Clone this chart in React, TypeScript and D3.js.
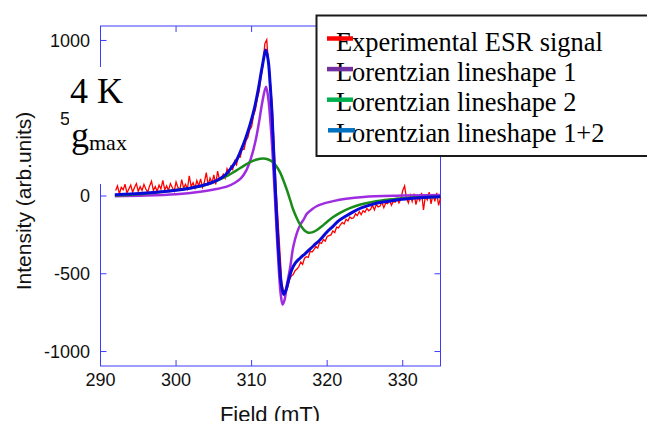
import React from "react";
import * as d3 from "d3";

const xTicks = [290, 300, 310, 320, 330];
const yTicks = [-1000, -500, 0, 500, 1000];

const expField = [
  292.0, 292.25, 292.5, 292.75, 293.0, 293.25, 293.5, 293.75, 294.0, 294.25, 294.5, 294.75,
  295.0, 295.25, 295.5, 295.75, 296.0, 296.25, 296.5, 296.75, 297.0, 297.25, 297.5, 297.75,
  298.0, 298.25, 298.5, 298.75, 299.0, 299.25, 299.5, 299.75, 300.0, 300.25, 300.5, 300.75,
  301.0, 301.25, 301.5, 301.75, 302.0, 302.25, 302.5, 302.75, 303.0, 303.25, 303.5, 303.75,
  304.0, 304.25, 304.5, 304.75, 305.0, 305.25, 305.5, 305.75, 306.0, 306.25, 306.5, 306.75,
  307.0, 307.25, 307.5, 307.75, 308.0, 308.25, 308.5, 308.75, 309.0, 309.25, 309.5, 309.75,
  310.0, 310.25, 310.5, 310.75, 311.0, 311.25, 311.5, 311.75, 312.0, 312.25, 312.5, 312.75,
  313.0, 313.25, 313.5, 313.75, 314.0, 314.25, 314.5, 314.75, 315.0, 315.25, 315.5, 315.75,
  316.0, 316.25, 316.5, 316.75, 317.0, 317.25, 317.5, 317.75, 318.0, 318.25, 318.5, 318.75,
  319.0, 319.25, 319.5, 319.75, 320.0, 320.25, 320.5, 320.75, 321.0, 321.25, 321.5, 321.75,
  322.0, 322.25, 322.5, 322.75, 323.0, 323.25, 323.5, 323.75, 324.0, 324.25, 324.5, 324.75,
  325.0, 325.25, 325.5, 325.75, 326.0, 326.25, 326.5, 326.75, 327.0, 327.25, 327.5, 327.75,
  328.0, 328.25, 328.5, 328.75, 329.0, 329.25, 329.5, 329.75, 330.0, 330.25, 330.5, 330.75,
  331.0, 331.25, 331.5, 331.75, 332.0, 332.25, 332.5, 332.75, 333.0, 333.25, 333.5, 333.75,
  334.0, 334.25, 334.5, 334.75, 335.0,
];
const expSignal = [
  35, 65, 15, 55, 40, 75, 20, 45, 70, 25, 55, 80,
  30, 60, 35, 75, 45, 25, 65, 95, 35, 60, 30, 70,
  45, 100, 40, 65, 35, 80, 55, 30, 90, 55, 40, 105,
  50, 75, 45, 130, 60, 85, 50, 100, 65, 110, 55, 90,
  150, 70, 115, 85, 135, 75, 160, 105, 115, 140, 115, 175,
  145, 190, 170, 225, 200, 255, 250, 305, 300, 355, 375, 425,
  445, 515, 555, 625, 675, 765, 845, 980, 1005, 840, 720, 560,
  300, 40, -160, -360, -560, -620, -600, -590, -540, -515, -505, -480,
  -470, -455, -425, -440, -400, -390, -395, -355, -360, -345, -325, -335,
  -300, -305, -280, -290, -260, -255, -250, -225, -235, -200, -205, -185,
  -170, -180, -150, -160, -135, -145, -140, -115, -125, -100, -120, -95,
  -105, -80, -95, -85, -60, -90, -55, -70, -65, -40, -75, -45,
  -50, -25, -60, -35, -40, -15, -45, -20, 35, 65, -15, -45,
  5, -35, 15, -55, -5, -30, 20, -90, 0, -25, 25, -50,
  10, -35, 20, -60, -10,
];

const fit1Field = [
  291.9, 296, 300, 303.2, 305, 306.7, 307.8, 308.6, 309.3, 309.9, 310.5, 311.0, 311.4,
  311.9, 312.2, 312.45, 312.7, 312.9, 313.1, 313.35, 313.6, 313.85, 314.1, 314.35, 314.65,
  315.1, 315.5, 316.0, 316.5, 316.9, 317.3, 318.0, 318.6, 319.1, 320.8, 322.5, 324.8, 329.2, 335,
];
const fit1Signal = [
  -1, 3, 12, 28, 42, 60, 85, 115, 165, 240, 350, 480, 600,
  702, 630, 500, 330, 160, -20, -260, -470, -630, -698, -670, -580,
  -460, -330, -237, -180, -150, -115, -85, -66, -55, -33, -18, -6, 2, 6,
];

const fit2Field = [
  291.9, 295, 298.8, 301, 303.2, 305, 306.7, 308, 308.9, 309.8, 310.7, 311.55, 312.2,
  312.7, 313.3, 313.8, 314.25, 314.65, 315.1, 315.5, 316.0, 316.4, 317.0, 317.5, 318.0,
  318.6, 319.3, 320.0, 320.8, 321.7, 323.0, 324.4, 326.0, 328.3, 331.0, 335,
];
const fit2Signal = [
  3, 12, 31, 45, 63, 90, 127, 165, 192, 218, 235, 241, 235,
  222, 190, 149, 95, 42, -25, -87, -145, -183, -222, -236, -234,
  -220, -195, -165, -135, -108, -78, -55, -38, -23, -12, -5,
];

const fitSumField = [
  291.9, 294, 296, 298, 300, 302, 303.5, 304.5, 305.5, 306.5, 307.3, 308, 308.6, 309.2,
  309.8, 310.4, 310.9, 311.4, 311.88, 312.2, 312.45, 312.7, 313.0, 313.3, 313.6, 313.9,
  314.25, 314.55, 314.9, 315.3, 315.8, 316.4, 317.1, 318.2, 319.1, 320.0, 320.8, 321.5,
  322.5, 323.5, 324.6, 326.1, 327.5, 329.2, 331, 332.3, 335,
];
const fitSumSignal = [
  8, 13, 19, 27, 37, 52, 68, 82, 103, 135, 180, 230, 295, 370,
  460, 570, 690, 830, 938, 870, 720, 530, 190, -120, -380, -560,
  -633, -605, -540, -475, -430, -400, -370, -320, -280, -230, -194, -160,
  -128, -100, -75, -52, -38, -25, -16, -11, -5,
];

const legendLabels = [
  "Experimental ESR signal",
  "Lorentzian lineshape 1",
  "Lorentzian lineshape 2",
  "Lorentzian lineshape 1+2",
];
const legendColors = ["#ff0000", "#7030a0", "#00b050", "#0070c0"];

export default function App() {
  const W = 647;
  const H = 421;
  const x = d3.scaleLinear().domain([290, 335]).range([100.5, 440.5]);
  const y = d3.scaleLinear().domain([-1093, 1093]).range([366, 26]);
  const axisColor = "#3c3cff";

  const mk = (xs: number[], ys: number[], curve: any) =>
    d3
      .line<number>()
      .x((_, i) => x(xs[i]))
      .y((v) => y(v))
      .curve(curve)(ys) || "";

  const expPath = mk(expField, expSignal, d3.curveLinear);
  const fit1Path = mk(fit1Field, fit1Signal, d3.curveCatmullRom);
  const fit2Path = mk(fit2Field, fit2Signal, d3.curveCatmullRom);
  const sumPath = mk(fitSumField, fitSumSignal, d3.curveCatmullRom);

  const [x0, x1] = x.range();
  const [yb, yt] = y.range();

  return (
    <svg
      width={W}
      height={H}
      style={{ position: "absolute", left: 0, top: 0, background: "#fff" }}
    >
      <rect x={0} y={0} width={W} height={H} fill="#fff" />
      {/* frame */}
      <rect
        x={x0}
        y={yt}
        width={x1 - x0}
        height={yb - yt}
        fill="none"
        stroke={axisColor}
        strokeWidth={1}
      />
      {xTicks.map((t) => (
        <g key={"xt" + t}>
          <line x1={x(t)} x2={x(t)} y1={yb} y2={yb - 6} stroke={axisColor} />
          <line x1={x(t)} x2={x(t)} y1={yt} y2={yt + 6} stroke={axisColor} />
          <text
            x={x(t)}
            y={386}
            textAnchor="middle"
            fontFamily="Liberation Sans, Arial, sans-serif"
            fontSize={18}
            fill="#111"
          >
            {t}
          </text>
        </g>
      ))}
      {yTicks.map((t) => (
        <g key={"yt" + t}>
          <line x1={x0} x2={x0 + 6} y1={y(t)} y2={y(t)} stroke={axisColor} />
          <line x1={x1} x2={x1 - 6} y1={y(t)} y2={y(t)} stroke={axisColor} />
          <text
            x={90}
            y={y(t)}
            dy="0.36em"
            textAnchor="end"
            fontFamily="Liberation Sans, Arial, sans-serif"
            fontSize={18}
            fill="#111"
          >
            {t}
          </text>
        </g>
      ))}
      {/* axis titles */}
      <text
        transform="translate(31,201) rotate(-90)"
        textAnchor="middle"
        fontFamily="Liberation Sans, Arial, sans-serif"
        fontSize={21}
        fill="#111"
      >
        Intensity (arb.units)
      </text>
      <text
        x={270}
        y={422}
        textAnchor="middle"
        fontFamily="Liberation Sans, Arial, sans-serif"
        fontSize={22}
        fill="#111"
      >
        Field (mT)
      </text>

      {/* data */}
      <path d={expPath} fill="none" stroke="#ff0000" strokeWidth={1.3} />
      <path d={fit1Path} fill="none" stroke="#a02ce0" strokeWidth={2.5} />
      <path d={fit2Path} fill="none" stroke="#1a8c1a" strokeWidth={2.5} />
      <path d={sumPath} fill="none" stroke="#0a0ad8" strokeWidth={3} />

      {/* annotation box */}
      <rect x={69} y={67} width={60} height={117} fill="#fff" />
      <text x={70} y={103} fontFamily="Liberation Serif, Times New Roman, serif" fontSize={36} fill="#000">
        4 K
      </text>
      <text x={71} y={147} fontFamily="Liberation Serif, Times New Roman, serif" fontSize={36} fill="#000">
        g
      </text>
      <text x={89} y={150} fontFamily="Liberation Serif, Times New Roman, serif" fontSize={22} fill="#000">
        max
      </text>

      {/* legend */}
      <rect x={316.5} y={15.5} width={345} height={140.5} fill="#fff" stroke="#1a1a1a" strokeWidth={2} />
      {legendLabels.map((l, i) => (
        <g key={l}>
          <text
            x={336}
            y={50.7 + i * 30.3}
            fontFamily="Liberation Serif, Times New Roman, serif"
            fontSize={26.4}
            fill="#000"
          >
            {l}
          </text>
          <line
            x1={327 + (i === 3 ? 1 : 0)}
            x2={353 + (i === 3 ? 2 : 0)}
            y1={38.5 + i * 30.6}
            y2={38.5 + i * 30.6}
            stroke={legendColors[i]}
            strokeWidth={4.5}
          />
        </g>
      ))}
    </svg>
  );
}
